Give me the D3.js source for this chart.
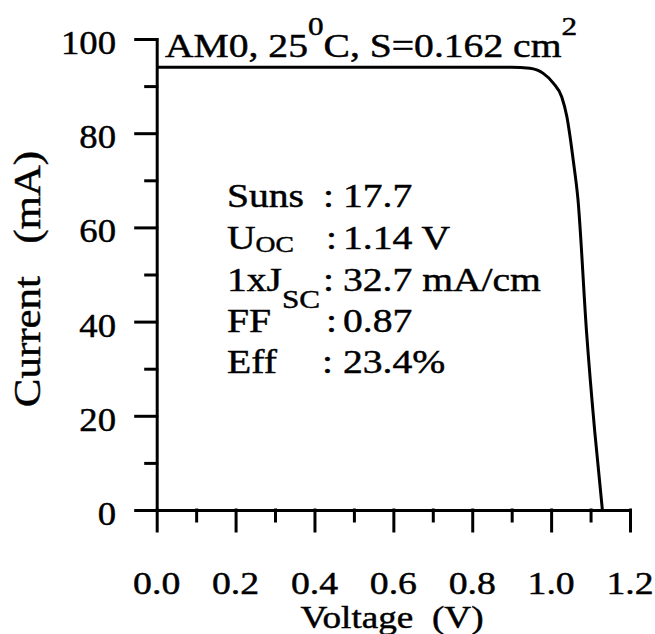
<!DOCTYPE html>
<html><head><meta charset="utf-8">
<script src="https://cdn.jsdelivr.net/npm/d3@7/dist/d3.min.js"></script>
<style>
body{margin:0;background:#fff}
text{font-family:"Liberation Serif","Times New Roman",serif;fill:#000;stroke:#000;stroke-width:0.45px}
</style>
</head><body>
<svg id="chart" width="655" height="634"></svg>
<script>
// ---- data ----
const voltage = [0.00, 0.20, 0.40, 0.60, 0.80, 0.90, 0.946, 0.980, 1.006, 1.027, 1.040, 1.048, 1.056, 1.068, 1.090, 1.111, 1.130];
const current = [94.0, 94.0, 94.0, 94.0, 94.0, 94.0, 93.8, 92.7, 90.6, 87.7, 83.5, 79.3, 74.3, 66.0, 37.6, 16.3, 0.0];
const xMajorTicks = [0.0, 0.2, 0.4, 0.6, 0.8, 1.0, 1.2];
const xMinorTicks = [0.1, 0.3, 0.5, 0.7, 0.9, 1.1];
const yMajorTicks = [0, 20, 40, 60, 80, 100];
const yMinorTicks = [10, 30, 50, 70, 90];
const xTitle = "Voltage\u00A0\u00A0(V)";
const yTitle = "Current\u00A0\u00A0\u00A0(mA)";
const condMain1 = "AM0, 25", condSup1 = "0", condMain2 = "C, S=0.162 cm", condSup2 = "2";
const statNames = ["Suns", "U", "1xJ", "FF", "Eff"];
const statSubs = ["", "OC", "SC", "", ""];
const statValues = ["17.7", "1.14 V", "32.7 mA/cm", "0.87", "23.4%"];

// ---- layout ----
const svg = d3.select("#chart");
const x = d3.scaleLinear().domain([0, 1.2]).range([156.7, 630]);
const y = d3.scaleLinear().domain([0, 100]).range([510, 39]);
const SW = 3;

// axes (major + minor ticks drawn by d3 axes)
const gx = svg.append("g").attr("transform", `translate(0,${y(0)})`);
gx.call(d3.axisBottom(x).tickValues(xMajorTicks).tickSize(21).tickSizeOuter(0).tickFormat(""));
const gxm = svg.append("g").attr("transform", `translate(0,${y(0)})`);
gxm.call(d3.axisBottom(x).tickValues(xMinorTicks).tickSize(11).tickSizeOuter(0).tickFormat(""));
gxm.select(".domain").remove();

const gy = svg.append("g").attr("transform", `translate(${x(0)},0)`);
gy.call(d3.axisLeft(y).tickValues(yMajorTicks).tickSize(21).tickSizeOuter(0).tickFormat(""));
const gym = svg.append("g").attr("transform", `translate(${x(0)},0)`);
gym.call(d3.axisLeft(y).tickValues(yMinorTicks).tickSize(11).tickSizeOuter(0).tickFormat(""));
gym.select(".domain").remove();

svg.selectAll(".domain, .tick line").attr("stroke", "#000").attr("stroke-width", SW).attr("stroke-linecap", "square");

// tick labels
const fmtX = d3.format(".1f");
svg.append("g").selectAll("text").data(xMajorTicks).join("text")
  .attr("transform", d => `translate(${x(d)},594) scale(1.18,1)`)
  .attr("text-anchor", "middle").attr("font-size", 32)
  .text(d => fmtX(d));
svg.append("g").selectAll("text").data(yMajorTicks).join("text")
  .attr("transform", d => `translate(116,${y(d) + 15}) scale(1.08,1)`)
  .attr("text-anchor", "end").attr("font-size", 34)
  .text(d => d);

// axis titles
svg.append("text")
  .attr("transform", "translate(392,628) scale(1.2,1)")
  .attr("text-anchor", "middle").attr("font-size", 31)
  .text(xTitle);
svg.append("text")
  .attr("transform", "translate(40,279) rotate(-90) scale(1.13,1)")
  .attr("text-anchor", "middle").attr("font-size", 38)
  .text(yTitle);

// I-V curve
const pts = voltage.map((v, i) => [v, current[i]]);
svg.append("path").datum(pts)
  .attr("fill", "none").attr("stroke", "#000").attr("stroke-width", SW)
  .attr("stroke-linejoin", "round")
  .attr("d", d3.line().x(d => x(d[0])).y(d => y(d[1])).curve(d3.curveMonotoneX));

// condition header
const head = svg.append("text")
  .attr("transform", "translate(165,57) scale(1.2,1)")
  .attr("font-size", 33);
head.append("tspan").text(condMain1);
head.append("tspan").attr("font-size", 26).attr("dy", -22).text(condSup1);
head.append("tspan").attr("dy", 22).text(condMain2);
head.append("tspan").attr("font-size", 26).attr("dy", -22).text(condSup2);

// parameters block
const baseY = [207, 249, 291, 332, 373];
const colonX = [323, 326, 323, 326, 322];
const subDy = [0, 3, 17, 0, 0];
const subSize = [0, 23, 26, 0, 0];
statNames.forEach((n, i) => {
  const t = svg.append("text")
    .attr("transform", `translate(227,${baseY[i]}) scale(1.2,1)`)
    .attr("font-size", 33);
  t.append("tspan").text(n);
  if (statSubs[i]) t.append("tspan").attr("font-size", subSize[i]).attr("dy", subDy[i]).text(statSubs[i]);
  svg.append("text")
    .attr("transform", `translate(${colonX[i]},${baseY[i]}) scale(1.2,1)`)
    .attr("font-size", 33).text(":");
  svg.append("text")
    .attr("transform", `translate(343,${baseY[i]}) scale(1.2,1)`)
    .attr("font-size", 33).text(statValues[i]);
});
</script>
</body></html>
